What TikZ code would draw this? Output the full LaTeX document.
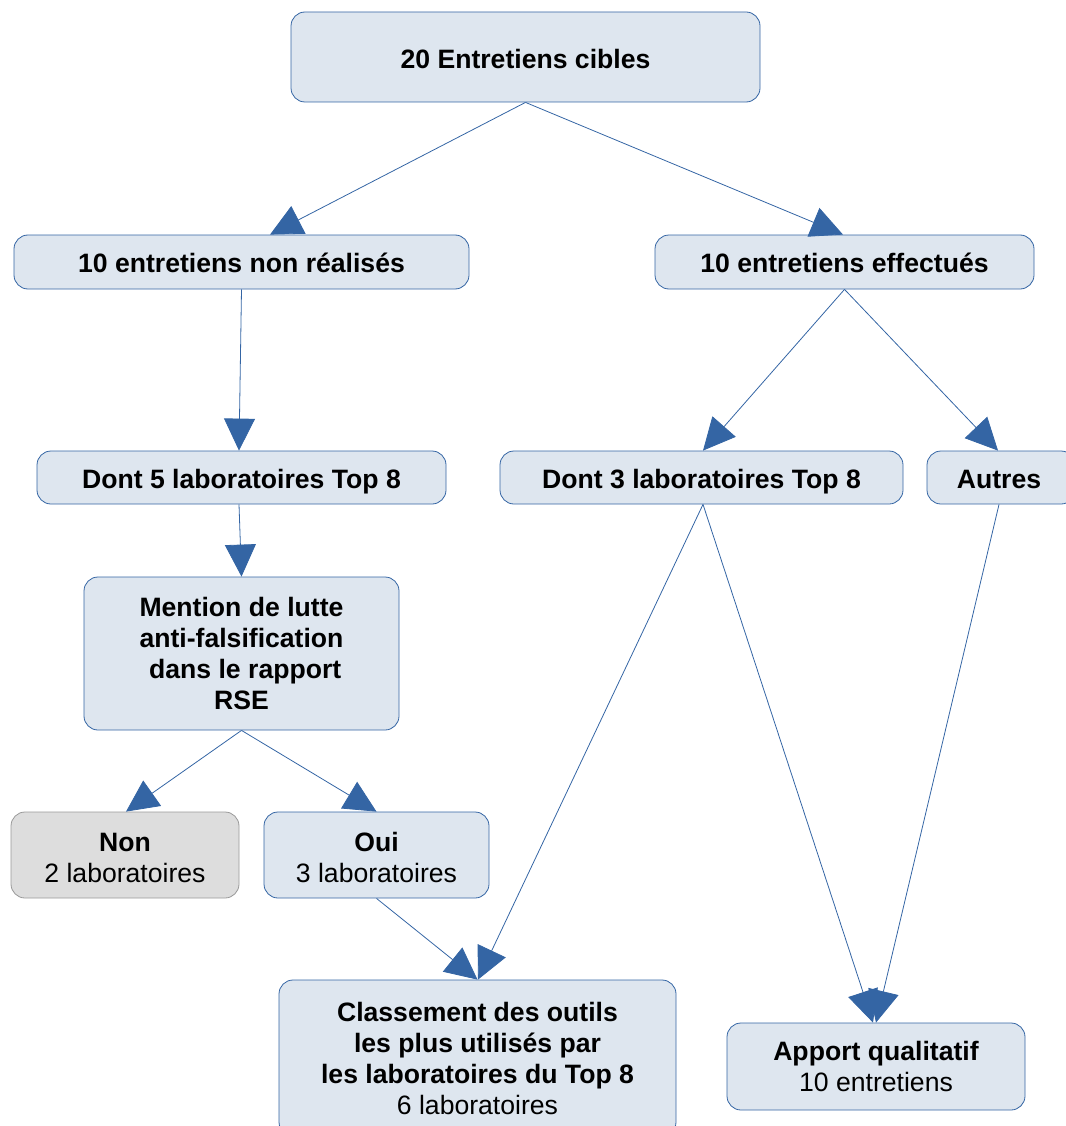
\documentclass[tikz,border=0pt]{standalone}
\usepackage{fontspec}
\setmainfont{Liberation Sans}
\usetikzlibrary{arrows.meta}
\definecolor{bfill}{HTML}{DEE6EF}
\definecolor{bline}{HTML}{3465A4}
\definecolor{gfill}{HTML}{DDDDDD}
\definecolor{gline}{HTML}{999999}
\begin{document}
\begin{tikzpicture}[x=1pt,y=-1pt,
  box/.style={draw=bline, fill=bfill, rounded corners=14pt, line width=0.8pt, align=center,
    font=\fontsize{26.6}{31}\selectfont, inner sep=0pt},
  greybox/.style={box, draw=gline, fill=gfill},
  conn/.style={draw=bline, line width=0.8pt, -{Triangle[length=32pt,width=31pt]}}]
\useasboundingbox (0,0) rectangle (1065,1126);
\node[box, minimum width=469pt, minimum height=90pt] (n1) at (525.5,57) {\rule{0pt}{24pt}\textbf{20 Entretiens cibles}};
\node[box, minimum width=455pt, minimum height=54pt] (n2) at (241.5,262) {\rule{0pt}{22pt}\textbf{10 entretiens non réalisés}};
\node[box, minimum width=379pt, minimum height=54pt] (n3) at (844.5,262) {\rule{0pt}{22pt}\textbf{10 entretiens effectués}};
\node[box, minimum width=409pt, minimum height=53pt] (n4) at (241.5,477.5) {\rule{0pt}{28pt}\textbf{Dont 5 laboratoires Top 8}};
\node[box, minimum width=403pt, minimum height=53pt] (n5) at (701.5,477.5) {\rule{0pt}{28pt}\textbf{Dont 3 laboratoires Top 8}};
\node[box, minimum width=148pt, minimum height=53pt, text width=148pt] (n6) at (1001,477.5) {\hspace*{-4pt}\rule{0pt}{28pt}\textbf{Autres}\rule[-6pt]{0pt}{1pt}};
\node[box, minimum width=315pt, minimum height=153pt] (n7) at (241.5,653.5) {\textbf{Mention de lutte}\\\textbf{anti-falsification}\\\textbf{\ dans le rapport}\\\textbf{RSE}};
\node[greybox, minimum width=228pt, minimum height=86pt] (n8) at (125,855) {\rule{0pt}{24pt}\textbf{Non}\\2 laboratoires};
\node[box, minimum width=225pt, minimum height=86pt] (n9) at (376.5,855) {\rule{0pt}{24pt}\textbf{Oui}\\3 laboratoires};
\node[box, minimum width=397pt, minimum height=156pt] (n10) at (477.5,1058) {\textbf{Classement des outils}\\\textbf{les plus utilisés par}\\\textbf{les laboratoires du Top 8}\\6 laboratoires};
\node[box, minimum width=298pt, minimum height=87pt] (n11) at (876,1066.5) {\textbf{Apport qualitatif}\\10 entretiens};
\draw[conn] (n1.south) -- ([xshift=28.5pt]n2.north);
\draw[conn] (n1.south) -- ([xshift=-1.5pt]n3.north);
\draw[conn] (n2.south) -- ([xshift=-2.5pt]n4.north);
\draw[conn] (n3.south) -- ([xshift=1.5pt]n5.north);
\draw[conn] (n3.south) -- ([xshift=-3pt]n6.north);
\draw[conn] ([xshift=-2.5pt]n4.south) -- (n7.north);
\draw[conn] (n7.south) -- ([xshift=1pt]n8.north);
\draw[conn] (n7.south) -- (n9.north);
\draw[conn] (n9.south) -- (n10.north);
\draw[conn] ([xshift=1.5pt]n5.south) -- ([xshift=0.5pt]n10.north);
\draw[conn] ([xshift=1.5pt]n5.south) -- ([xshift=-3pt]n11.north);
\draw[conn] ([xshift=-2pt]n6.south) -- (n11.north);
\end{tikzpicture}
\end{document}
